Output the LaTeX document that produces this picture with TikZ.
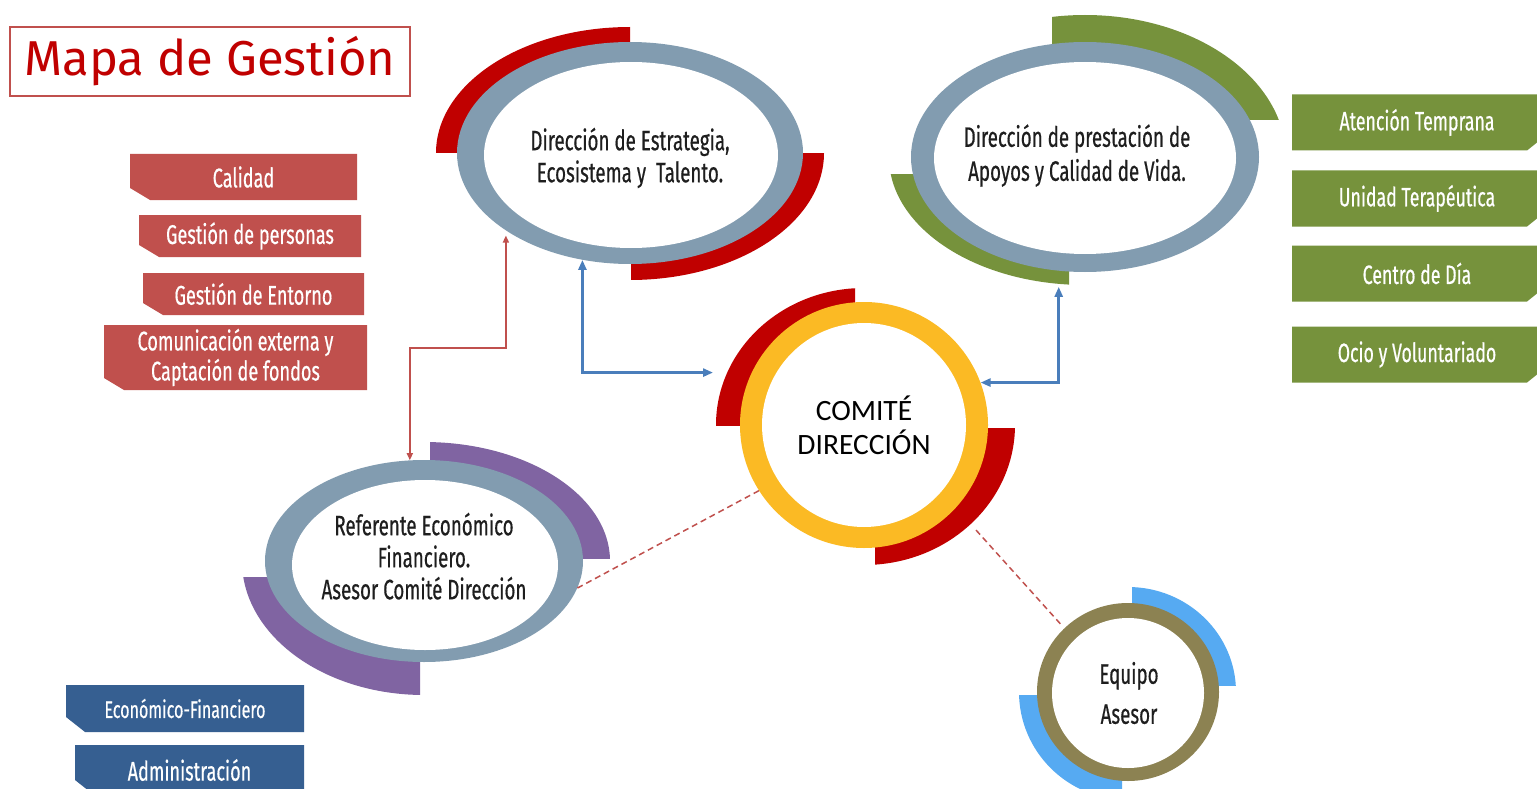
\documentclass[tikz,border=0pt]{standalone}
\usepackage{fontspec}
\setmainfont{Fira Sans}
\newfontfamily\agency[FakeStretch=0.67,FakeBold=0.5]{Fira Sans}
\newfontfamily\calib{Carlito}
\usetikzlibrary{arrows.meta,shapes.geometric}
\definecolor{arcred}{RGB}{192,0,0}
\definecolor{ringgray}{RGB}{130,156,176}
\definecolor{olivegreen}{RGB}{118,146,60}
\definecolor{gold}{RGB}{251,186,36}
\definecolor{violet2}{RGB}{128,100,162}
\definecolor{boxred}{RGB}{192,80,77}
\definecolor{boxblue}{RGB}{54,95,145}
\definecolor{skyblue}{RGB}{86,170,242}
\definecolor{ringolive}{RGB}{140,130,82}
\definecolor{linered}{RGB}{192,80,77}
\definecolor{lineblue}{RGB}{74,126,187}
\definecolor{titlered}{RGB}{192,0,0}
\definecolor{textdark}{RGB}{30,30,30}
% text block: extra space on top (#1), at bottom (#2), at right (#3)
\newcommand\ovtxt[4]{\begin{tabular}{@{}c@{\hspace{#3}}}\rule{0pt}{\dimexpr0.7\baselineskip+#1\relax}#4\rule[\dimexpr-0.3\baselineskip-#2\relax]{0pt}{0pt}\end{tabular}}
\tikzset{
  boxbase/.style={rectangle, inner sep=0pt, text=white, align=center,
    font=\agency\fontsize{27}{30}\selectfont},
  swcham/.style n args={3}{path picture={\fill[#1] (path picture bounding box.north west) -- (path picture bounding box.north east) -- (path picture bounding box.south east) -- ([xshift=#2]path picture bounding box.south west) -- ([yshift=#3]path picture bounding box.south west) -- cycle;}},
  secham/.style n args={3}{path picture={\fill[#1] (path picture bounding box.north west) -- (path picture bounding box.north east) -- ([yshift=#3]path picture bounding box.south east) -- ([xshift=-#2]path picture bounding box.south east) -- (path picture bounding box.south west) -- cycle;}},
  redbox/.style={boxbase, swcham={boxred}{20pt}{12pt}},
  bluebox/.style={boxbase, swcham={boxblue}{19pt}{15pt}},
  greenbox/.style={boxbase, secham={olivegreen}{15pt}{12pt}, minimum width=250pt, minimum height=56pt, font=\agency\fontsize{26.5}{30}\selectfont},
  oval/.style={ellipse, inner sep=0pt, text=textdark,
    font=\agency\fontsize{28}{32}\selectfont},
  redline/.style={draw=linered, line width=1.5pt, {Triangle[length=7pt,width=6pt]}-{Triangle[length=7pt,width=6pt]}},
  blueline/.style={draw=lineblue, line width=2.5pt, {Triangle[length=10pt,width=8pt]}-{Triangle[length=10pt,width=8pt]}},
  dashline/.style={draw=linered, line width=1.5pt, dash pattern=on 6pt off 4pt},
}
\begin{document}
\begin{tikzpicture}[x=1pt,y=-1pt]
\useasboundingbox (0,0) rectangle (1537,789);
\fill[white] (0,0) rectangle (1537,789);

% Title
\node[draw=boxred, line width=1.5pt, minimum width=400pt, minimum height=69pt, inner sep=0pt,
  text=titlered, font=\fontsize{49}{56}\selectfont] (title) at (210,61.5) {Mapa de Gestión};

% Red boxes
\node[redbox, minimum width=227pt, minimum height=46pt] (cal) at (243.5,177) {Calidad};
\node[redbox, minimum width=222pt, minimum height=42pt] (gper) at (250,236) {Gestión de personas};
\node[redbox, minimum width=221pt, minimum height=42pt] (gent) at (253.5,294) {Gestión de Entorno};
\node[redbox, minimum width=263pt, minimum height=65pt] (com1) at (235.5,357.5) {Comunicación externa y\\Captación de fondos};

% Blue boxes
\node[bluebox, minimum width=238pt, minimum height=47pt, font=\agency\fontsize{24}{28}\selectfont] (ecof) at (185,708.5) {Económico-Financiero};
\node[bluebox, minimum width=229pt, minimum height=50pt] (admi) at (189.5,770) {Administración};

% Green boxes
\node[greenbox] (aten) at (1417,122.5) {Atención Temprana};
\node[greenbox] (unid) at (1417,198.5) {Unidad Terapéutica};
\node[greenbox] (cent) at (1417,273.5) {Centro de Día};
\node[greenbox] (ocio) at (1417,354.5) {Ocio y Voluntariado};

% Ring: Estrategia
\begin{scope}\clip (400,0) rectangle (630,153); \fill[arcred] (630,153) ellipse [x radius=194pt, y radius=126pt];\end{scope}
\begin{scope}\clip (631,154) rectangle (860,300); \fill[arcred] (630,153) ellipse [x radius=194pt, y radius=127pt];\end{scope}
\fill[ringgray] (630,153) ellipse [x radius=173pt, y radius=111pt];
\fill[white] (631,155) ellipse [x radius=147pt, y radius=93pt];
\node[oval, minimum width=346pt, minimum height=222pt] (estr) at (630,153) {\ovtxt{36pt}{0pt}{0pt}{Dirección de Estrategia,\\Ecosistema y\ \ Talento.}};

% Ring: Prestacion
\begin{scope}\clip (1052,0) rectangle (1300,120); \fill[olivegreen] (1085,158) ellipse [x radius=201pt, y radius=143pt];\end{scope}
\begin{scope}\clip (870,175) rectangle (1069,300); \fill[olivegreen] (1085,157) ellipse [x radius=196pt, y radius=128pt];\end{scope}
\fill[ringgray] (1085,157) ellipse [x radius=174pt, y radius=115pt];
\fill[white] (1085,158) ellipse [x radius=151pt, y radius=96pt];
\node[oval, minimum width=348pt, minimum height=230pt, font=\agency\fontsize{28}{34}\selectfont] (prest) at (1085,157) {\ovtxt{16pt}{0pt}{16pt}{Dirección de prestación de\\Apoyos y Calidad de Vida.}};

% Ring: Comite
\begin{scope}\clip (700,270) rectangle (855,425); \fill[arcred] (864,425) ellipse [x radius=148pt, y radius=137pt];\end{scope}
\begin{scope}\clip (875,428) rectangle (1030,580); \fill[arcred] (864,425) ellipse [x radius=151pt, y radius=140pt];\end{scope}
\fill[gold] (864,425) ellipse [x radius=124pt, y radius=123pt];
\fill[white] (864,425) ellipse [x radius=102pt, y radius=102pt];
\node[ellipse, inner sep=0pt, align=center, minimum width=248pt, minimum height=246pt, text=black,
  font=\calib\fontsize{29.5}{34}\selectfont] (com) at (864,425) {COMITÉ\\DIRECCIÓN};

% Ring: Referente
\begin{scope}\clip (430,420) rectangle (630,558); \fill[violet2] (424,561) ellipse [x radius=186pt, y radius=119pt];\end{scope}
\begin{scope}\clip (230,577) rectangle (420,710); \fill[violet2] (424,561) ellipse [x radius=182pt, y radius=134pt];\end{scope}
\fill[ringgray] (424,561) ellipse [x radius=159pt, y radius=101pt];
\fill[white] (425,565) ellipse [x radius=133pt, y radius=85pt];
\node[oval, minimum width=318pt, minimum height=202pt] (ref) at (424,561) {\ovtxt{0pt}{10pt}{0pt}{Referente Económico\\Financiero.\\Asesor Comité Dirección}};

% Ring: Equipo
\begin{scope}\clip (1132,570) rectangle (1250,685); \fill[skyblue] (1128,692) ellipse [x radius=108pt, y radius=105pt];\end{scope}
\begin{scope}\clip (1010,695) rectangle (1122,800); \fill[skyblue] (1128,692) ellipse [x radius=109pt, y radius=108pt];\end{scope}
\fill[ringolive] (1128,692) ellipse [x radius=91pt, y radius=89pt];
\fill[white] (1128,693) ellipse [x radius=76pt, y radius=75pt];
\node[oval, align=center, minimum width=182pt, minimum height=178pt, font=\agency\fontsize{28}{40}\selectfont] (equ) at (1129,693) {Equipo\\Asesor};

% Connectors
\coordinate (redmid) at (0,348);
\draw[redline, shorten >=5pt] (ref.98) -- (ref.98 |- redmid) -- (estr.212 |- redmid) -- (estr.212);
\draw[blueline, shorten >=38.6pt] (estr.246) |- (com.155);
\draw[blueline, shorten >=16pt] (com.20) -| (prest.257);
\draw[dashline] (com.212) -- (ref.-10);
\draw[dashline, shorten <=30pt, shorten >=5pt] (com.-42) -- (equ.135);
\end{tikzpicture}
\end{document}
